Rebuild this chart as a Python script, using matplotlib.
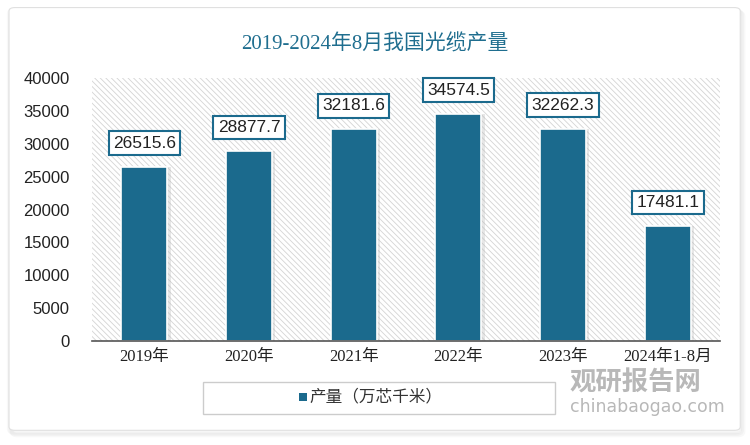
import matplotlib.pyplot as plt
import matplotlib as mpl
from matplotlib.patches import FancyBboxPatch, Rectangle

categories = ['2019年', '2020年', '2021年', '2022年', '2023年', '2024年1-8月']
values = [26515.6, 28877.7, 32181.6, 34574.5, 32262.3, 17481.1]
yticks = [0, 5000, 10000, 15000, 20000, 25000, 30000, 35000, 40000]

plt.rcParams['font.family'] = ['Liberation Sans', 'Noto Sans CJK SC', 'DejaVu Sans']
mpl.rcParams['hatch.linewidth'] = 0.6
mpl.rcParams['hatch.color'] = '#d4d4d4'

bar_color = '#1b6a8d'
fig = plt.figure(figsize=(7.5, 4.45), dpi=100)

# outer frame with soft shadow
for i, a in enumerate([0.05, 0.05, 0.06]):
    fig.patches.append(FancyBboxPatch((0.012 + 0.002 * i, 0.028 - 0.003 * i), 0.975, 0.95,
                                      boxstyle='round,pad=0,rounding_size=0.008',
                                      transform=fig.transFigure, facecolor='none',
                                      edgecolor='#888888', alpha=a, lw=3, zorder=-10))
fig.patches.append(FancyBboxPatch((0.012, 0.033), 0.975, 0.95,
                                  boxstyle='round,pad=0,rounding_size=0.008',
                                  transform=fig.transFigure, facecolor='white',
                                  edgecolor='#e0e0e0', lw=0.8, zorder=-9))

ax = fig.add_axes([0.1227, 0.2337, 0.8373, 0.591])
ax.set_facecolor('none')
ax.add_patch(Rectangle((0, 0), 1, 1, transform=ax.transAxes, facecolor='white',
                       hatch='\\\\\\\\\\\\', edgecolor='#d4d4d4', lw=0, zorder=0))

x = range(len(categories))
bars = ax.bar(x, values, width=0.44, color=bar_color, edgecolor='white', lw=1.2, zorder=3)
# faint shadow next to bars
ax.bar([i + 0.02 for i in x], values, width=0.46, color='#bbbbbb', alpha=0.35, lw=0, zorder=2)

for i, v in enumerate(values):
    ax.annotate(f'{v:.1f}', (i, v), xytext=(0, 17), textcoords='offset points',
                ha='center', va='center', fontsize=12.5, color='#222222',
                bbox=dict(boxstyle='square,pad=0.25', fc='white', ec=bar_color, lw=1.5),
                zorder=5)

ax.set_xlim(-0.5, len(categories) - 0.5)
ax.set_ylim(0, 40000)
ax.set_yticks(yticks)
ax.set_yticklabels([str(t) for t in yticks], fontsize=12, color='#222222')
ax.set_xticks(list(x))
ax.set_xticklabels(categories, fontsize=12, color='#222222',
                   family=['Liberation Serif', 'Noto Sans CJK SC'])
ax.tick_params(axis='both', length=0, pad=6)
ax.tick_params(axis='y', pad=16)
for s in ['top', 'right', 'left']:
    ax.spines[s].set_visible(False)
ax.spines['bottom'].set_color('#555555')
ax.spines['bottom'].set_linewidth(1.2)
ax.spines['bottom'].set_zorder(6)

fig.text(0.5, 0.9, '2019-2024年8月我国光缆产量', ha='center', va='center',
         fontsize=15, color='#1f6e8f', family=['Liberation Serif', 'Noto Sans CJK SC'])

# legend box
fig.patches.append(Rectangle((0.271, 0.07), 0.469, 0.072, transform=fig.transFigure,
                             facecolor='white', edgecolor='#cccccc', lw=1))
fig.patches.append(Rectangle((0.398, 0.098), 0.011, 0.018, transform=fig.transFigure,
                             facecolor=bar_color, lw=0))
fig.text(0.413, 0.107, '产量（万芯千米）', ha='left', va='center', fontsize=12, color='#333333',
         family=['Noto Sans CJK SC'])

# watermark
fig.text(0.76, 0.14, '观研报告网', fontsize=19, color='#9a9a9a', alpha=0.7, fontweight='bold',
         family=['Noto Sans CJK SC'], ha='left', va='center')
fig.text(0.76, 0.085, 'chinabaogao.com', fontsize=12.5, color='#9a9a9a', alpha=0.7,
         family=['DejaVu Sans'], ha='left', va='center')

fig.savefig('out.png', dpi=100)
